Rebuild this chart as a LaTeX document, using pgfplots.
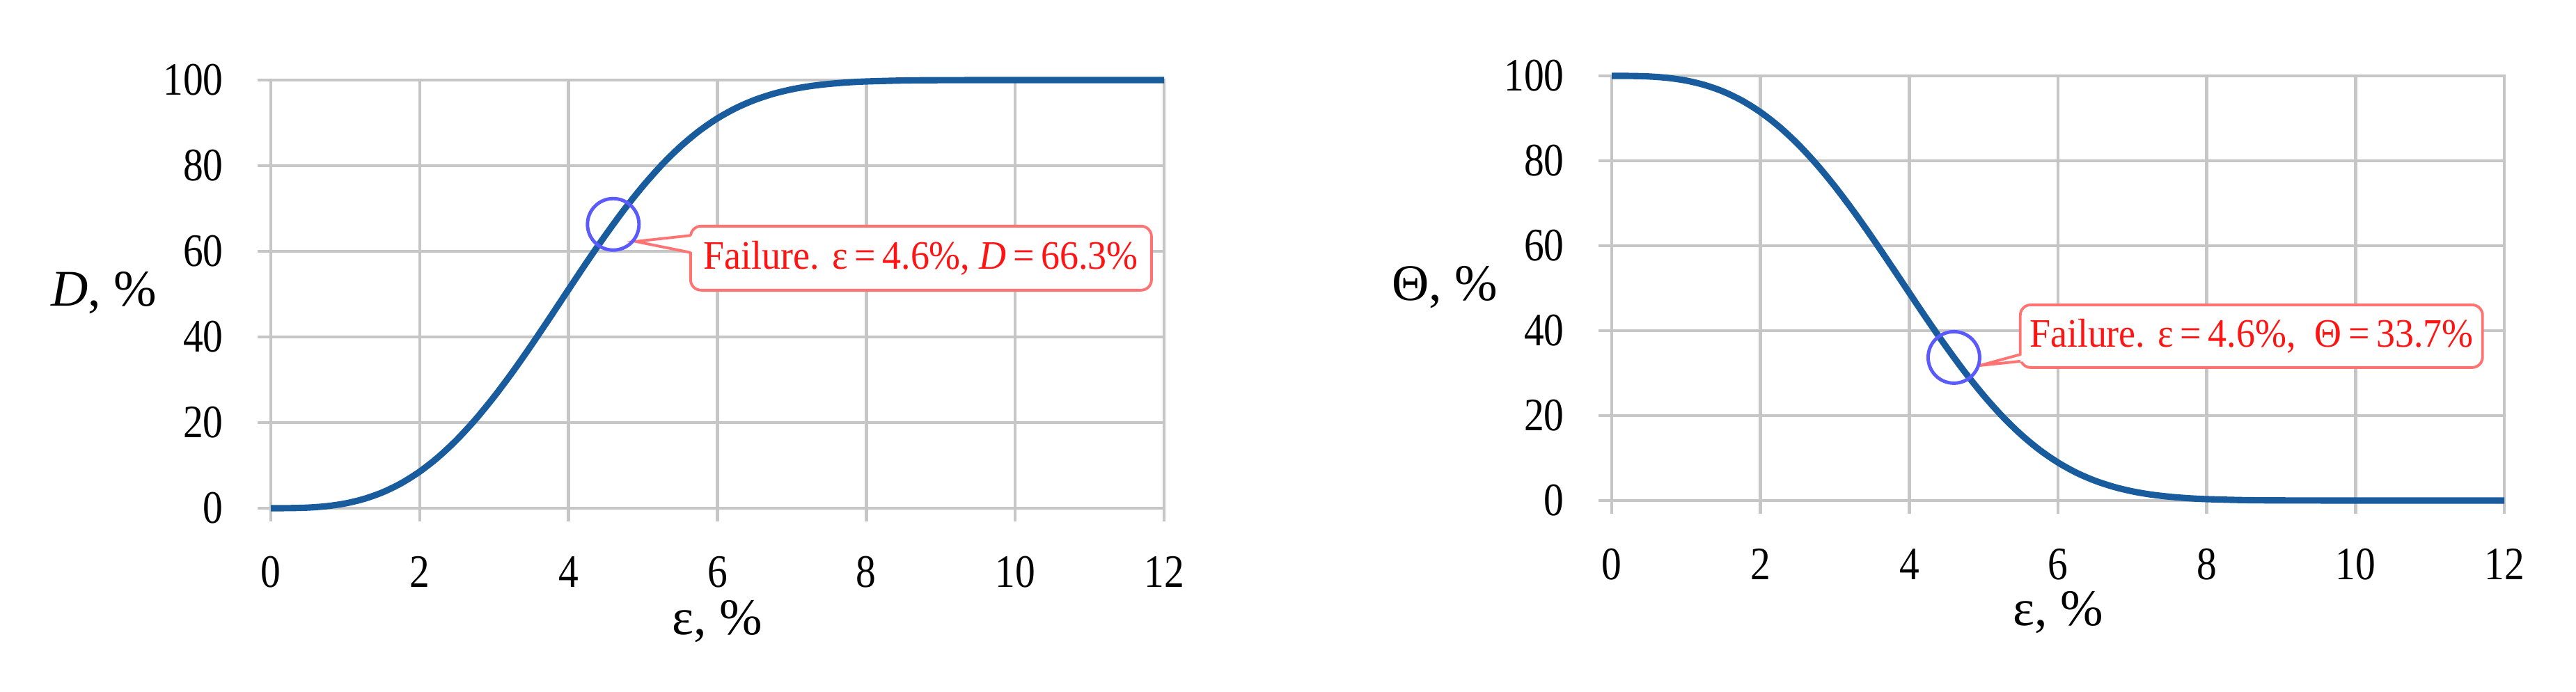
\documentclass[border=0pt]{standalone}
\usepackage{fontspec}
\setmainfont{Liberation Serif}
\newfontfamily\tickfont[FakeStretch=0.86]{Liberation Serif}
\newfontfamily\notefont[FakeStretch=0.93]{Liberation Serif}
\usepackage{pgfplots}
\pgfplotsset{compat=1.18}
\usepackage{pgfplotstable}
\definecolor{curve}{RGB}{24,92,158}
\definecolor{gridc}{RGB}{198,198,198}
\definecolor{boxred}{RGB}{255,115,115}
\definecolor{txtred}{RGB}{255,20,20}
\definecolor{circblue}{RGB}{90,90,255}
\pgfplotstableread{
x D
0 0
0.25 0.02
0.5 0.14
0.75 0.47
1.0 1.11
1.25 2.16
1.5 3.70
1.75 5.81
2.0 8.55
2.25 11.95
2.5 16.02
2.75 20.74
3.0 26.05
3.25 31.86
3.5 38.07
3.75 44.53
4.0 51.09
4.25 57.60
4.5 63.88
4.75 69.81
5.0 75.26
5.25 80.15
5.5 84.42
5.75 88.05
6.0 91.05
6.25 93.47
6.5 95.35
6.75 96.78
7.0 97.84
7.25 98.59
7.5 99.10
7.75 99.45
8.0 99.67
8.5 99.90
9.0 99.97
10.0 100
12.0 100
}\dtab
\pgfplotstableread{
x T
0 100
0.25 99.98
0.5 99.86
0.75 99.53
1.0 98.89
1.25 97.84
1.5 96.30
1.75 94.19
2.0 91.45
2.25 88.05
2.5 83.98
2.75 79.26
3.0 73.95
3.25 68.14
3.5 61.93
3.75 55.47
4.0 48.91
4.25 42.40
4.5 36.12
4.75 30.19
5.0 24.74
5.25 19.85
5.5 15.58
5.75 11.95
6.0 8.95
6.25 6.53
6.5 4.65
6.75 3.22
7.0 2.16
7.25 1.41
7.5 0.90
7.75 0.55
8.0 0.33
8.5 0.10
9.0 0.03
10.0 0
12.0 0
}\ttab
\pgfplotsset{
  myaxis/.style={
    scale only axis,
    xmin=0, xmax=12, ymin=0, ymax=100,
    xtick={0,2,...,12}, ytick={0,20,...,100},
    grid=major,
    grid style={draw=gridc, line width=1.3pt},
    axis line style={draw=gridc, line width=1.3pt},
    tick style={draw=gridc, line width=1.3pt},
    tick align=outside,
    major tick length=0.19cm,
    xtick pos=bottom, ytick pos=left,
    /pgf/number format/assume math mode=true,
    tick label style={font=\tickfont\fontsize{19}{19}\selectfont},
    xticklabel style={anchor=north, yshift=-0.38cm},
    yticklabel style={anchor=east, xshift=-0.37cm},
    label style={font=\fontsize{21}{21}\selectfont},
    xlabel style={at={(axis description cs:0.5,-0.295)}, anchor=base},
    ylabel style={rotate=-90, at={(axis description cs:-0.187,0.472)}, anchor=base},
    clip=false,
  }
}
\begin{document}
\begin{tikzpicture}
\useasboundingbox (0,0) rectangle (37,9.94);
\begin{axis}[myaxis, at={(3.89cm,2.64cm)}, anchor=south west, width=12.83cm, height=6.15cm,
  xlabel={ε, \%}, ylabel={\textit{D}, \%}]
\addplot[curve, line width=2.6pt, smooth] table[x=x, y=D] {\dtab};
\addplot[only marks, mark=o, mark size=0.37cm, mark options={draw=circblue, line width=1.4pt}] coordinates {(4.6,66.3)};
\node[draw=boxred, line width=1.1pt, rounded corners=0.15cm, fill=white, minimum width=6.62cm, minimum height=0.92cm, inner sep=0pt, text=txtred, font=\notefont\fontsize{16.5}{16.5}\selectfont] at (axis cs:8.735,58.4) {Failure. ε\,=\,4.6\%, \textit{D}\,=\,66.3\%};
\fill[white] (axis cs:5.70,63.7) -- (axis cs:4.90,62.3) -- (axis cs:5.70,59.7) -- cycle;
\draw[boxred, line width=1.1pt] (axis cs:5.64,63.7) -- (axis cs:4.90,62.3) -- (axis cs:5.64,59.7);
\end{axis}
\begin{axis}[myaxis, at={(23.15cm,2.75cm)}, anchor=south west, width=12.82cm, height=6.10cm,
  xlabel={ε, \%}, ylabel={Θ, \%}]
\addplot[curve, line width=2.6pt, smooth] table[x=x, y=T] {\ttab};
\addplot[only marks, mark=o, mark size=0.37cm, mark options={draw=circblue, line width=1.4pt}] coordinates {(4.6,33.7)};
\node[draw=boxred, line width=1.1pt, rounded corners=0.15cm, fill=white, minimum width=6.64cm, minimum height=0.90cm, inner sep=0pt, text=txtred, font=\notefont\fontsize{16.5}{16.5}\selectfont] at (axis cs:8.60,38.7) {Failure. ε\,=\,4.6\%,\ \ Θ\,=\,33.7\%};
\fill[white] (axis cs:5.56,34.4) -- (axis cs:4.95,31.8) -- (axis cs:5.56,32.8) -- cycle;
\draw[boxred, line width=1.1pt] (axis cs:5.494,34.4) -- (axis cs:4.95,31.8) -- (axis cs:5.494,32.8);
\end{axis}
\end{tikzpicture}
\end{document}
